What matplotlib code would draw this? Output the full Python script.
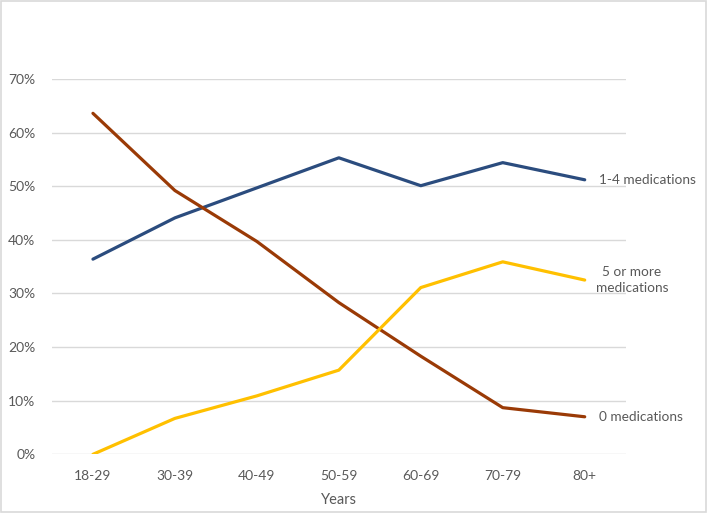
import matplotlib.pyplot as plt
from matplotlib.ticker import PercentFormatter
from matplotlib.patches import Rectangle

plt.rcParams['font.family'] = ['Lato', 'DejaVu Sans']

ages = ["18-29", "30-39", "40-49", "50-59", "60-69", "70-79", "80+"]
meds_1_4 = [36.4, 44.1, 49.7, 55.3, 50.1, 54.4, 51.2]
meds_0 = [63.6, 49.2, 39.7, 28.3, 18.3, 8.7, 7.0]
meds_5plus = [0.0, 6.7, 10.9, 15.7, 31.1, 35.9, 32.5]

series = [
    ("1-4 medications", meds_1_4, "#2B4C7E"),
    ("0 medications", meds_0, "#9A3A06"),
    ("5 or more\nmedications", meds_5plus, "#FFC000"),
]

text_color = "#595959"

fig = plt.figure(figsize=(7.07, 5.13), dpi=100)
ax = fig.add_axes([0.0735, 0.1144, 0.8115, 0.7316])

x = range(len(ages))
for label, vals, color in series:
    ax.plot(x, vals, color=color, linewidth=2.3, solid_capstyle="round")
    if label.startswith("5"):
        ax.annotate(label, (x[-1], vals[-1]), xytext=(34, 0), textcoords="offset points",
                    ha="center", va="center", fontsize=9.8, color=text_color,
                    linespacing=1.35)
    else:
        ax.annotate(label, (x[-1], vals[-1]), xytext=(10, 0), textcoords="offset points",
                    ha="left", va="center", fontsize=9.8, color=text_color)

ax.set_xlim(-0.5, len(ages) - 0.5)
ax.set_ylim(0, 70)
ax.set_yticks(range(0, 71, 10))
ax.yaxis.set_major_formatter(PercentFormatter(decimals=0))
ax.set_xticks(list(x))
ax.set_xticklabels(ages)
ax.grid(axis="y", color="#D9D9D9", linewidth=1)
ax.set_axisbelow(True)
for s in ax.spines.values():
    s.set_visible(False)
ax.tick_params(length=0, colors=text_color, labelsize=10)
ax.tick_params(axis="y", pad=12)
ax.tick_params(axis="x", pad=11)
ax.set_xlabel("Years", fontsize=10.5, color=text_color, labelpad=8)

fig.patches.append(Rectangle((0.001, 0.001), 0.997, 0.997, transform=fig.transFigure,
                             fill=False, edgecolor="#D9D9D9", linewidth=1.2))

fig.savefig("out.png", dpi=100)
